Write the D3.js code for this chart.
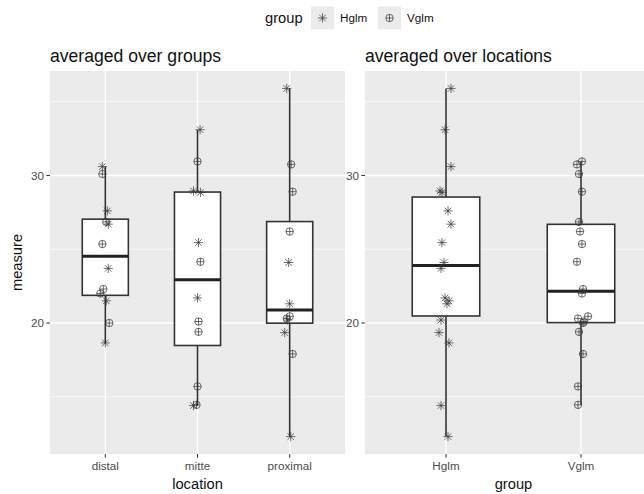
<!DOCTYPE html>
<html>
<head>
<meta charset="utf-8">
<script src="https://cdn.jsdelivr.net/npm/d3@7"></script>
<style>
  body { margin: 0; background: #fff; }
  svg { display: block; font-family: "Liberation Sans", Arial, sans-serif; }
</style>
</head>
<body>
<div id="chart"></div>
<script>
// Categories
const locations = ["distal", "mitte", "proximal"];
const groups = ["Hglm", "Vglm"];

// Measured values, one array per location x group
const distalHglm = [30.6, 27.6, 26.7, 23.7, 21.5, 18.65];
const distalVglm = [30.1, 26.85, 25.35, 22.3, 22.0, 20.0];
const mitteHglm = [33.1, 28.95, 28.85, 25.45, 21.7, 14.4];
const mitteVglm = [30.95, 24.15, 20.1, 19.4, 15.7, 14.45];
const proximalHglm = [35.9, 24.1, 21.3, 20.2, 19.35, 12.3];
const proximalVglm = [30.75, 28.9, 26.2, 20.45, 20.3, 17.9];

// Jitter (fraction of one category step)
// left panel (by location)
const distalHglmJitL = [-0.032, 0.022, 0.032, 0.032, 0.011, 0];
const distalVglmJitL = [-0.032, 0.011, -0.032, -0.022, -0.054, 0.043];
const mitteHglmJitL = [0.028, -0.043, 0.032, 0.011, 0, -0.043];
const mitteVglmJitL = [0, 0.032, 0.011, 0.011, 0, -0.011];
const proximalHglmJitL = [-0.032, -0.011, 0, -0.022, -0.054, 0.011];
const proximalVglmJitL = [0.016, 0.032, 0, 0, -0.032, 0.032];
// right panel (by group)
const distalHglmJitR = [0.037, 0.015, 0.037, -0.037, 0.022, 0.022];
const distalVglmJitR = [-0.015, -0.015, 0.007, 0.015, 0.007, 0.015];
const mitteHglmJitR = [-0.007, -0.044, -0.03, -0.03, -0.007, -0.037];
const mitteVglmJitR = [0.007, -0.03, 0.022, -0.015, -0.022, -0.022];
const proximalHglmJitR = [0.037, -0.015, 0.007, -0.037, -0.052, 0.015];
const proximalVglmJitR = [-0.03, 0.007, -0.007, 0.052, -0.022, 0.015];

const yMajor = [20, 30];
const yMinor = [15, 25, 35];

// Build observation table
const sets = [
  ["distal", "Hglm", distalHglm, distalHglmJitL, distalHglmJitR],
  ["distal", "Vglm", distalVglm, distalVglmJitL, distalVglmJitR],
  ["mitte", "Hglm", mitteHglm, mitteHglmJitL, mitteHglmJitR],
  ["mitte", "Vglm", mitteVglm, mitteVglmJitL, mitteVglmJitR],
  ["proximal", "Hglm", proximalHglm, proximalHglmJitL, proximalHglmJitR],
  ["proximal", "Vglm", proximalVglm, proximalVglmJitL, proximalVglmJitR]
];
const obs = [];
sets.forEach(([loc, grp, vals, jl, jr]) => {
  vals.forEach((v, i) => obs.push({ location: loc, group: grp, value: v, jitL: jl[i], jitR: jr[i] }));
});

// Tukey box stats like ggplot (quantile type 7)
function boxStats(values) {
  const s = values.slice().sort(d3.ascending);
  const q1 = d3.quantile(s, 0.25), med = d3.quantile(s, 0.5), q3 = d3.quantile(s, 0.75);
  const iqr = q3 - q1;
  const lo = d3.min(s.filter(v => v >= q1 - 1.5 * iqr));
  const hi = d3.max(s.filter(v => v <= q3 + 1.5 * iqr));
  return { q1, med, q3, lo, hi };
}

const W = 644, H = 494;
const panelTop = 71, panelBottom = 454;

const svg = d3.select("#chart").append("svg")
  .attr("width", W).attr("height", H);

const ext = d3.extent(obs, d => d.value);
const pad = (ext[1] - ext[0]) * 0.05;
const y = d3.scaleLinear().domain([ext[0] - pad, ext[1] + pad]).range([panelBottom, panelTop]);

function drawPanel(opts) {
  const { x0, x1, cats, key, jitKey, title, xTitle } = opts;
  const x = d3.scalePoint().domain(cats).range([x0, x1]).padding(0.6);
  const step = x.step();
  const g = svg.append("g");

  g.append("rect").attr("x", x0).attr("y", panelTop)
    .attr("width", x1 - x0).attr("height", panelBottom - panelTop)
    .attr("fill", "#EBEBEB");

  g.selectAll(".minor").data(yMinor).enter().append("line")
    .attr("x1", x0).attr("x2", x1)
    .attr("y1", d => y(d)).attr("y2", d => y(d))
    .attr("stroke", "#fff").attr("stroke-width", 0.7);
  g.selectAll(".major").data(yMajor).enter().append("line")
    .attr("x1", x0).attr("x2", x1)
    .attr("y1", d => y(d)).attr("y2", d => y(d))
    .attr("stroke", "#fff").attr("stroke-width", 1.4);
  g.selectAll(".vmajor").data(cats).enter().append("line")
    .attr("x1", d => x(d)).attr("x2", d => x(d))
    .attr("y1", panelTop).attr("y2", panelBottom)
    .attr("stroke", "#fff").attr("stroke-width", 1.4);

  // boxplots
  const bw = step * 0.5;
  cats.forEach(c => {
    const st = boxStats(obs.filter(d => d[key] === c).map(d => d.value));
    const cx = x(c);
    g.append("line").attr("x1", cx).attr("x2", cx)
      .attr("y1", y(st.hi)).attr("y2", y(st.q3))
      .attr("stroke", "#333").attr("stroke-width", 1.6);
    g.append("line").attr("x1", cx).attr("x2", cx)
      .attr("y1", y(st.q1)).attr("y2", y(st.lo))
      .attr("stroke", "#333").attr("stroke-width", 1.6);
    g.append("rect").attr("x", cx - bw / 2).attr("width", bw)
      .attr("y", y(st.q3)).attr("height", y(st.q1) - y(st.q3))
      .attr("fill", "#fff").attr("stroke", "#333").attr("stroke-width", 1.6);
    g.append("line").attr("x1", cx - bw / 2).attr("x2", cx + bw / 2)
      .attr("y1", y(st.med)).attr("y2", y(st.med))
      .attr("stroke", "#222").attr("stroke-width", 3);
  });

  // points
  const pts = g.selectAll(".pt").data(obs).enter().append("g")
    .attr("transform", d => `translate(${x(d[key]) + d[jitKey] * step},${y(d.value)})`);
  pts.each(function(d) { drawShape(d3.select(this), d.group); });

  // y axis
  const ya = g.append("g");
  ya.selectAll("line").data(yMajor).enter().append("line")
    .attr("x1", x0 - 3.7).attr("x2", x0)
    .attr("y1", d => y(d)).attr("y2", d => y(d))
    .attr("stroke", "#333").attr("stroke-width", 1);
  ya.selectAll("text").data(yMajor).enter().append("text")
    .attr("x", x0 - 6).attr("y", d => y(d)).attr("dy", "0.35em")
    .attr("text-anchor", "end").attr("font-size", 11.7).attr("fill", "#4D4D4D")
    .text(d => d);

  // x axis
  const xa = g.append("g");
  xa.selectAll("line").data(cats).enter().append("line")
    .attr("x1", d => x(d)).attr("x2", d => x(d))
    .attr("y1", panelBottom).attr("y2", panelBottom + 3.7)
    .attr("stroke", "#333").attr("stroke-width", 1);
  xa.selectAll("text").data(cats).enter().append("text")
    .attr("x", d => x(d)).attr("y", 470)
    .attr("text-anchor", "middle").attr("font-size", 11.7).attr("fill", "#4D4D4D")
    .text(d => d);
  g.append("text").attr("x", (x0 + x1) / 2).attr("y", 489)
    .attr("text-anchor", "middle").attr("font-size", 14.7).attr("fill", "#111")
    .text(xTitle);

  g.append("text").attr("x", x0).attr("y", 62)
    .attr("font-size", 17.6).attr("fill", "#111")
    .text(title);
}

function drawShape(sel, grp) {
  if (grp === "Hglm") {
    const r = 4.6, k = r * 0.707;
    sel.append("path")
      .attr("d", `M${-r},0H${r}M0,${-r}V${r}M${-k},${-k}L${k},${k}M${-k},${k}L${k},${-k}`)
      .attr("fill", "none").attr("stroke", "#333").attr("stroke-opacity", 0.7).attr("stroke-width", 1);
  } else {
    const r = 3.7;
    sel.append("circle").attr("r", r)
      .attr("fill", "none").attr("stroke", "#333").attr("stroke-opacity", 0.7).attr("stroke-width", 1);
    sel.append("path").attr("d", `M${-r},0H${r}M0,${-r}V${r}`)
      .attr("fill", "none").attr("stroke", "#333").attr("stroke-opacity", 0.7).attr("stroke-width", 1);
  }
}

drawPanel({ x0: 50, x1: 345, cats: locations, key: "location", jitKey: "jitL",
  title: "averaged over groups", xTitle: "location" });
drawPanel({ x0: 365, x1: 662, cats: groups, key: "group", jitKey: "jitR",
  title: "averaged over locations", xTitle: "group" });

// y axis title
svg.append("text")
  .attr("transform", `translate(22,${(panelTop + panelBottom) / 2}) rotate(-90)`)
  .attr("text-anchor", "middle").attr("font-size", 14.7).attr("fill", "#111")
  .text("measure");

// legend
const leg = svg.append("g");
leg.append("text").attr("x", 265).attr("y", 23).attr("font-size", 14.7).attr("fill", "#111").text("group");
const keyX = [311, 378];
groups.forEach((grp, i) => {
  leg.append("rect").attr("x", keyX[i]).attr("y", 6.5).attr("width", 23).attr("height", 23)
    .attr("fill", "#EBEBEB");
  const k = leg.append("g").attr("transform", `translate(${keyX[i] + 11.5},18)`);
  drawShape(k, grp);
  leg.append("text").attr("x", keyX[i] + 29).attr("y", 22).attr("font-size", 11.7)
    .attr("fill", "#111").text(grp);
});
</script>
</body>
</html>
